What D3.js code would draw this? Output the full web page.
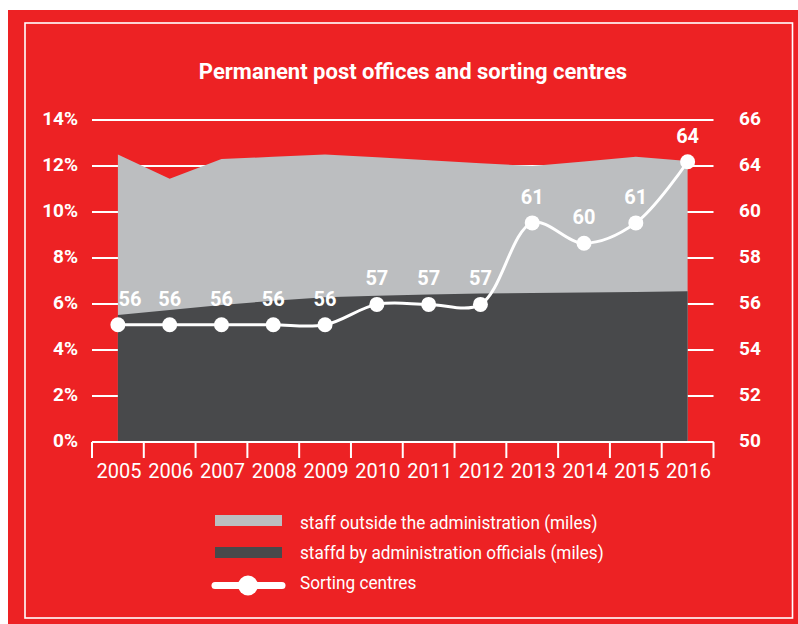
<!DOCTYPE html>
<html>
<head>
<meta charset="utf-8">
<script src="https://cdn.jsdelivr.net/npm/d3@7"></script>
<style>
  html, body { margin: 0; padding: 0; background: #ffffff; }
  svg { display: block; }
  text { font-family: 'Roboto', 'Liberation Sans', sans-serif; fill: #ffffff; }
</style>
</head>
<body>
<svg id="chart" width="798" height="624"></svg>
<script>
// ---- data ----
const years = ["2005","2006","2007","2008","2009","2010","2011","2012","2013","2014","2015","2016"];
const staffOutside = [12.5, 11.45, 12.3, 12.4, 12.5, 12.38, 12.25, 12.12, 12.0, 12.2, 12.4, 12.22]; // top of grey area (%)
const staffAdmin = [5.52, 5.74, 5.96, 6.14, 6.29, 6.36, 6.41, 6.46, 6.48, 6.5, 6.52, 6.55];        // top of dark area (%)
const sortingCentres = [56, 56, 56, 56, 56, 57, 57, 57, 61, 60, 61, 64];
const leftTicks = [0, 2, 4, 6, 8, 10, 12, 14];
const rightTickLabels = ["50", "52", "54", "56", "58", "60", "64", "66"];
const title = "Permanent post offices and sorting centres";
const legendLabels = ["staff outside the administration (miles)", "staffd by administration officials (miles)", "Sorting centres"];

// ---- styles ----
const RED = "#ED2224", GREY = "#BCBEC0", DARK = "#48494B", WHITE = "#ffffff";

const svg = d3.select("#chart");

// background and frame
svg.append("rect").attr("x", 8).attr("y", 10).attr("width", 790).attr("height", 614).attr("fill", RED);
svg.append("rect").attr("x", 25).attr("y", 23).attr("width", 767.5).attr("height", 595)
  .attr("fill", "none").attr("stroke", WHITE).attr("stroke-width", 1.6);

svg.append("text").attr("x", 413).attr("y", 79).attr("text-anchor", "middle")
  .attr("font-size", 22).attr("font-weight", "bold").text(title);

// scales
const x = d3.scaleBand().domain(years).range([92, 713.5]);
const xc = d => x(d) + x.bandwidth() / 2;
const yL = d3.scaleLinear().domain([0, 14]).range([442, 120]);
const yR = d3.scaleLinear().domain([50, 66]).range([447, 121]);
const yRticks = d3.scalePoint().domain(rightTickLabels).range([442, 120]);

// gridlines
svg.append("g").selectAll("line").data(leftTicks).join("line")
  .attr("x1", 92).attr("x2", 713.5)
  .attr("y1", d => yL(d)).attr("y2", d => yL(d))
  .attr("stroke", WHITE).attr("stroke-width", 2);

// areas
const idx = d3.range(years.length);
svg.append("path").datum(idx)
  .attr("fill", GREY)
  .attr("d", d3.area().x(i => xc(years[i])).y0(yL(0)).y1(i => yL(staffOutside[i])));
svg.append("path").datum(idx)
  .attr("fill", DARK)
  .attr("d", d3.area().x(i => xc(years[i])).y0(yL(0)).y1(i => yL(staffAdmin[i])));

// left axis labels
svg.append("g").selectAll("text").data(leftTicks).join("text")
  .attr("x", 78).attr("y", d => yL(d) + 4.5).attr("text-anchor", "end")
  .attr("font-size", 19).attr("font-weight", "bold")
  .text(d => d + "%");

// right axis labels
svg.append("g").selectAll("text").data(rightTickLabels).join("text")
  .attr("x", 739).attr("y", d => yRticks(d) + 4.5).attr("text-anchor", "start")
  .attr("font-size", 19).attr("font-weight", "bold")
  .text(d => d);

// x axis
const xAxisG = svg.append("g");
xAxisG.append("line").attr("x1", 92).attr("x2", 713.5).attr("y1", 442).attr("y2", 442)
  .attr("stroke", WHITE).attr("stroke-width", 2);
const bounds = years.map(d => x(d)).concat([x(years[years.length - 1]) + x.bandwidth()]);
xAxisG.selectAll("line.tick").data(bounds).join("line").attr("class", "tick")
  .attr("x1", d => d).attr("x2", d => d).attr("y1", 442).attr("y2", 458)
  .attr("stroke", WHITE).attr("stroke-width", 2);
xAxisG.selectAll("text").data(years).join("text")
  .attr("x", d => xc(d) + 1).attr("y", 478).attr("text-anchor", "middle")
  .attr("font-size", 20).text(d => d);

// sorting centres line
const line = d3.line().x(i => xc(years[i])).y(i => yR(sortingCentres[i])).curve(d3.curveCatmullRom.alpha(0.5));
svg.append("path").datum(idx).attr("fill", "none").attr("stroke", WHITE).attr("stroke-width", 3)
  .attr("d", line);
svg.append("g").selectAll("circle").data(idx).join("circle")
  .attr("cx", i => xc(years[i])).attr("cy", i => yR(sortingCentres[i])).attr("r", 7.5)
  .attr("fill", WHITE);
svg.append("g").selectAll("text").data(idx).join("text")
  .attr("x", i => xc(years[i]) + (i === 0 ? 12 : 0)).attr("y", i => yR(sortingCentres[i]) - 19)
  .attr("text-anchor", "middle").attr("font-size", 20).attr("font-weight", "bold")
  .attr("fill", "#f4f4f4")
  .text(i => sortingCentres[i]);

// legend
const lg = svg.append("g");
lg.append("rect").attr("x", 215).attr("y", 515).attr("width", 67).attr("height", 11).attr("fill", GREY);
lg.append("rect").attr("x", 215).attr("y", 547).attr("width", 67).attr("height", 11).attr("fill", DARK);
lg.append("line").attr("x1", 215).attr("x2", 282).attr("y1", 585.5).attr("y2", 585.5)
  .attr("stroke", WHITE).attr("stroke-width", 7).attr("stroke-linecap", "round");
lg.append("circle").attr("cx", 248).attr("cy", 585.5).attr("r", 10).attr("fill", WHITE);
const lgText = lg.append("g").attr("transform", "translate(300,0) scale(0.905,1)");
lgText.selectAll("text").data(legendLabels).join("text")
  .attr("x", 0).attr("y", (d, i) => 529 + i * 30)
  .attr("font-size", 19).text(d => d);
</script>
</body>
</html>
